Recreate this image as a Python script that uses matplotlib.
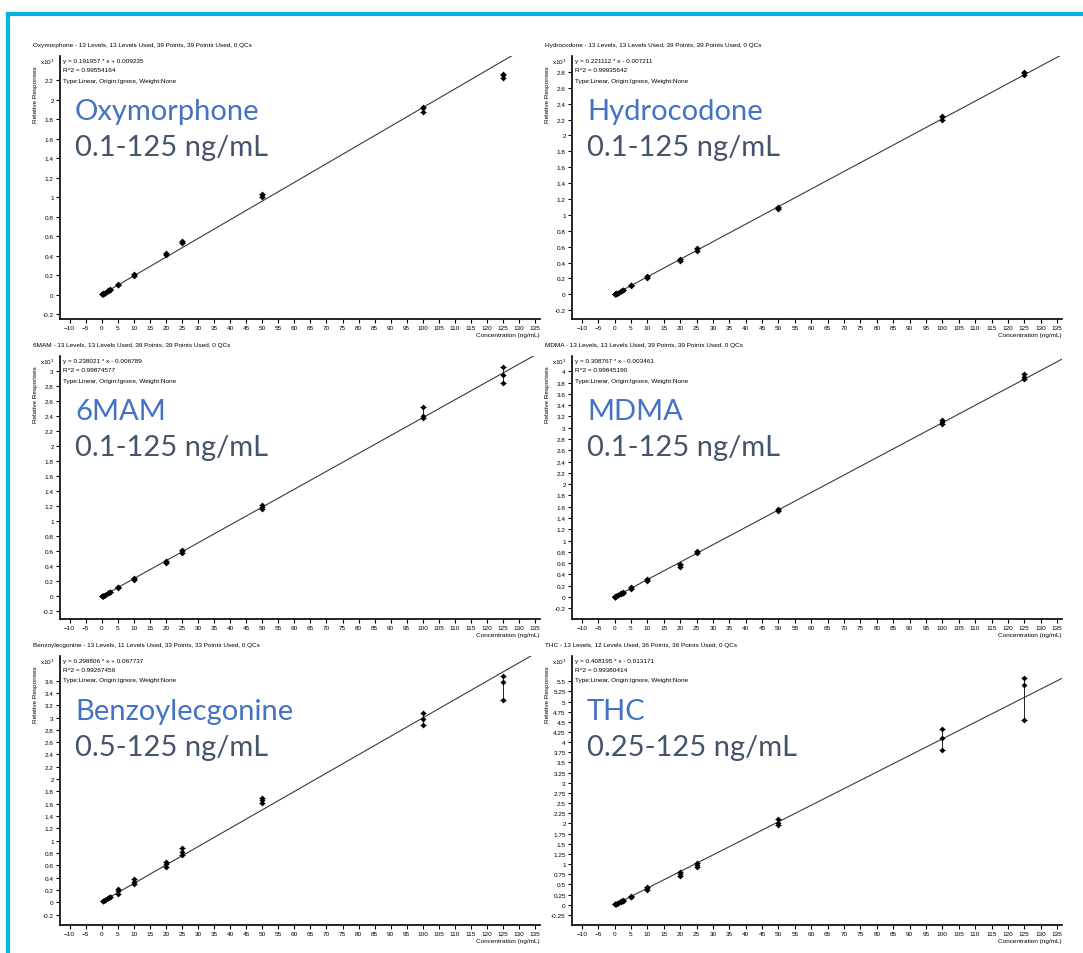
import numpy as np
import matplotlib.pyplot as plt
from matplotlib.lines import Line2D

# calibration levels (ng/mL)
levels_all = [0.1, 0.25, 0.5, 1, 2, 2.5, 5, 10, 20, 25, 50, 100, 125]
levels_thc = [0.25, 0.5, 1, 2, 2.5, 5, 10, 20, 25, 50, 100, 125]
levels_bzg = [0.5, 1, 2, 2.5, 5, 10, 20, 25, 50, 100, 125]

# relative responses (x10^1), 3 replicates per level
oxy_resp = [[0.003, 0.002, 0.004], [0.006, 0.005, 0.008], [0.011, 0.010, 0.013],
            [0.020, 0.022, 0.019], [0.040, 0.043, 0.038], [0.050, 0.053, 0.048],
            [0.100, 0.112, 0.095], [0.200, 0.210, 0.195], [0.410, 0.430, 0.420],
            [0.530, 0.550, 0.545], [1.000, 1.020, 1.030], [1.880, 1.915, 1.930],
            [2.220, 2.250, 2.270]]
hyd_resp = [[0.001, 0.002, 0.000], [0.005, 0.004, 0.006], [0.010, 0.011, 0.009],
            [0.021, 0.022, 0.020], [0.043, 0.045, 0.041], [0.054, 0.056, 0.052],
            [0.100, 0.112, 0.120], [0.200, 0.220, 0.232], [0.420, 0.440, 0.430],
            [0.540, 0.570, 0.585], [1.080, 1.100, 1.092], [2.200, 2.230, 2.245],
            [2.760, 2.780, 2.800]]
mam_resp = [[0.002, 0.001, 0.003], [0.005, 0.006, 0.004], [0.011, 0.012, 0.010],
            [0.023, 0.024, 0.022], [0.046, 0.049, 0.044], [0.058, 0.061, 0.056],
            [0.110, 0.130, 0.120], [0.220, 0.232, 0.240], [0.450, 0.470, 0.460],
            [0.580, 0.610, 0.620], [1.160, 1.190, 1.220], [2.380, 2.400, 2.520],
            [2.840, 2.950, 3.050]]
mdma_resp = [[0.003, 0.002, 0.004], [0.008, 0.007, 0.009], [0.015, 0.016, 0.014],
             [0.031, 0.033, 0.030], [0.062, 0.064, 0.060], [0.077, 0.080, 0.075],
             [0.150, 0.165, 0.175], [0.290, 0.310, 0.300], [0.540, 0.560, 0.580],
             [0.780, 0.800, 0.815], [1.520, 1.540, 1.560], [3.060, 3.100, 3.140],
             [3.860, 3.900, 3.950]]
bzg_resp = [[0.020, 0.022, 0.018], [0.035, 0.038, 0.033], [0.066, 0.070, 0.062],
            [0.080, 0.085, 0.078], [0.140, 0.180, 0.210], [0.300, 0.330, 0.370],
            [0.580, 0.620, 0.660], [0.760, 0.820, 0.880], [1.620, 1.660, 1.690],
            [2.880, 2.980, 3.080], [3.280, 3.580, 3.680]]
thc_resp = [[0.010, 0.008, 0.012], [0.020, 0.022, 0.018], [0.040, 0.043, 0.038],
            [0.080, 0.085, 0.076], [0.100, 0.104, 0.096], [0.180, 0.200, 0.220],
            [0.360, 0.400, 0.430], [0.700, 0.760, 0.800], [0.920, 0.970, 1.020],
            [1.950, 2.020, 2.100], [3.800, 4.100, 4.330], [4.550, 5.400, 5.580]]

compounds = ['Oxymorphone', 'Hydrocodone', '6MAM', 'MDMA', 'Benzoylecgonine', 'THC']
ranges = ['0.1-125 ng/mL', '0.1-125 ng/mL', '0.1-125 ng/mL', '0.1-125 ng/mL',
          '0.5-125 ng/mL', '0.25-125 ng/mL']
headers = ['Oxymorphone - 13 Levels, 13 Levels Used, 39 Points, 39 Points Used, 0 QCs',
           'Hydrocodone - 13 Levels, 13 Levels Used, 39 Points, 39 Points Used, 0 QCs',
           '6MAM - 13 Levels, 13 Levels Used, 39 Points, 39 Points Used, 0 QCs',
           'MDMA - 13 Levels, 13 Levels Used, 39 Points, 39 Points Used, 0 QCs',
           'Benzoylecgonine - 13 Levels, 11 Levels Used, 33 Points, 33 Points Used, 0 QCs',
           'THC - 13 Levels, 12 Levels Used, 36 Points, 36 Points Used, 0 QCs']
slopes = [0.191957, 0.221112, 0.238021, 0.308767, 0.298806, 0.408195]
intercepts = [0.009235, -0.007211, -0.006789, -0.003461, 0.067737, -0.013171]
r2 = ['0.99554164', '0.99935642', '0.99874577', '0.99845190', '0.99267456', '0.99380414']
x_levels = [levels_all, levels_all, levels_all, levels_all, levels_bzg, levels_thc]
responses = [oxy_resp, hyd_resp, mam_resp, mdma_resp, bzg_resp, thc_resp]
ylims = [(-0.25, 2.45), (-0.31, 3.0), (-0.3, 3.2), (-0.39, 4.27), (-0.37, 4.0), (-0.5, 6.12)]
ystep = [0.2, 0.2, 0.2, 0.2, 0.2, 0.25]
ytop = [2.2, 2.8, 3.0, 4.0, 3.6, 5.5]

W, H = 1083, 954
fig = plt.figure(figsize=(W / 100, H / 100), dpi=100)

def px(x, y):
    return x / W, 1 - y / H

small = dict(family='Liberation Sans', fontsize=4.6, color='black')
big = 'Lato'

# cyan slide border
fig.add_artist(Line2D([8 / W, 1.0], [1 - 15 / H, 1 - 15 / H], color='#00B4E4', lw=3))
fig.add_artist(Line2D([8 / W, 8 / W], [1 - 15 / H, 0], color='#00B4E4', lw=3))

cols = [(60, 540), (572, 1062)]
rows = [(57, 320), (357, 620), (657, 926)]

for i, name in enumerate(compounds):
    r, c = divmod(i, 2)
    x0, x1 = cols[c]
    y0, y1 = rows[r]
    ax = fig.add_axes([x0 / W, 1 - y1 / H, (x1 - x0) / W, (y1 - y0) / H])
    for s in ['top', 'right']:
        ax.spines[s].set_visible(False)
    for s in ['left', 'bottom']:
        ax.spines[s].set_linewidth(1.2)

    xs = np.array(x_levels[i])
    ys = np.array(responses[i])
    # fit line
    xl = np.array([0, 140])
    ax.plot(xl, (slopes[i] * xl + intercepts[i]) / 10, color='#3a3a3a', lw=0.8, zorder=2)
    # min/max bars
    mean = ys.mean(axis=1)
    ax.errorbar(xs, mean, yerr=[mean - ys.min(axis=1), ys.max(axis=1) - mean],
                fmt='none', ecolor='#222222', elinewidth=0.7, capsize=2.5, capthick=0.7, zorder=3)
    for k in range(3):
        ax.scatter(xs, ys[:, k], s=9, marker='D', color='black', zorder=4, linewidths=0)

    ax.set_xlim(-13, 136.5)
    ax.set_ylim(*ylims[i])
    ax.set_xticks(np.arange(-10, 136, 5))
    ax.set_yticks(np.arange(-ystep[i], ytop[i] + 1e-6, ystep[i]))
    ax.set_yticklabels(['%g' % round(v, 2) for v in ax.get_yticks()])
    ax.tick_params(labelsize=4.6, length=3, width=0.8, pad=1.5)
    for lab in ax.get_xticklabels() + ax.get_yticklabels():
        lab.set_family('Liberation Sans')

    # header and fit info
    fig.text(*px(x0 - 27, y0 - 11), headers[i], va='center', **small)
    fig.text(*px(x0 + 3, y0 + 4), 'y = %.6f * x %s %.6f' % (slopes[i], '+' if intercepts[i] >= 0 else '-',
             abs(intercepts[i])), va='center', **small)
    fig.text(*px(x0 + 3, y0 + 14), 'R^2 = ' + r2[i], va='center', **small)
    fig.text(*px(x0 + 3, y0 + 24), 'Type:Linear, Origin:Ignore, Weight:None', va='center', **small)
    fig.text(*px(x0 - 20, y0 + 5), r'x10$^1$', va='center', **small)
    fig.text(*px(x0 - 25, y0 + 38), 'Relative Responses', rotation=90, va='center', ha='center', **small)
    fig.text(*px(x1, y1 + 16), 'Concentration (ng/mL)', ha='right', va='center', **small)

    # slide labels
    fig.text(*px(x0 + 15, y0 + 55), name, family=big, fontsize=21, color='#4472C4', va='center')
    fig.text(*px(x0 + 15, y0 + 91), ranges[i], family=big, fontsize=21, color='#44546A', va='center')

fig.savefig('out.png', dpi=100)
